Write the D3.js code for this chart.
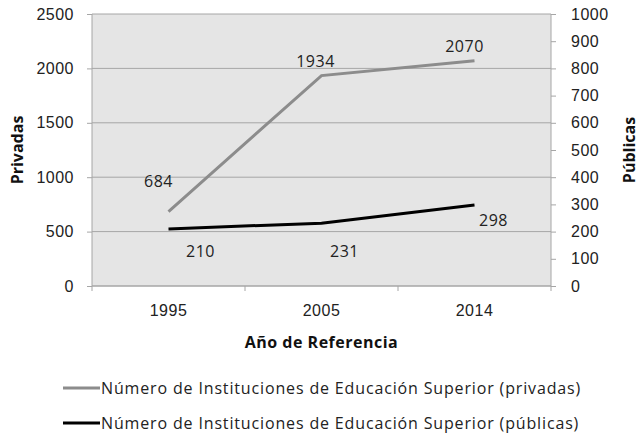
<!DOCTYPE html>
<html>
<head>
<meta charset="utf-8">
<script src="https://cdn.jsdelivr.net/npm/d3@7"></script>
<style>
  body { margin: 0; background: #fff; }
  svg { font-family: "Open Sans", sans-serif; }
</style>
</head>
<body>
<svg id="chart" width="640" height="434"></svg>
<script>
var years = ["1995", "2005", "2014"];
var privadas = [684, 1934, 2070];
var publicas = [210, 231, 298];
var leftTicks = [0, 500, 1000, 1500, 2000, 2500];
var rightTicks = [0, 100, 200, 300, 400, 500, 600, 700, 800, 900, 1000];
var seriesNames = [
  "Número de Instituciones de Educación Superior (privadas)",
  "Número de Instituciones de Educación Superior (públicas)"
];

var margin = { top: 14, right: 89, bottom: 148, left: 92 };
var w = 640, h = 434;
var fs = "16px", ls = "0.5px";

var svg = d3.select("#chart");

var xScale = d3.scaleBand()
  .domain(years)
  .range([margin.left, w - margin.right]);

var yLeft = d3.scaleLinear()
  .domain([0, 2500])
  .range([h - margin.bottom, margin.top]);

var yRight = d3.scaleLinear()
  .domain([0, 1000])
  .range([h - margin.bottom, margin.top]);

// plot background
svg.append("rect")
  .attr("x", margin.left)
  .attr("y", margin.top)
  .attr("width", w - margin.left - margin.right)
  .attr("height", h - margin.top - margin.bottom)
  .attr("fill", "#e5e5e5");

// gridlines
svg.append("g")
  .selectAll("line")
  .data(leftTicks)
  .enter()
  .append("line")
  .attr("x1", margin.left)
  .attr("x2", w - margin.right)
  .attr("y1", function(d) { return yLeft(d); })
  .attr("y2", function(d) { return yLeft(d); })
  .attr("stroke", "#a6a6a6")
  .attr("stroke-width", 1);

// left axis
var gl = svg.append("g")
  .attr("transform", "translate(" + margin.left + ",0)")
  .call(d3.axisLeft(yLeft).tickValues(leftTicks).tickFormat(d3.format("d")).tickSize(5).tickPadding(13));

// right axis
var gr = svg.append("g")
  .attr("transform", "translate(" + (w - margin.right) + ",0)")
  .call(d3.axisRight(yRight).tickValues(rightTicks).tickFormat(d3.format("d")).tickSize(5).tickPadding(15));

// bottom axis: ticks between categories
var gb = svg.append("g")
  .attr("transform", "translate(0," + (h - margin.bottom) + ")")
  .call(d3.axisBottom(xScale).tickSize(0).tickPadding(19));

var bounds = years.map(function(d) { return xScale(d); }).concat([w - margin.right]);
gb.selectAll(".sep")
  .data(bounds)
  .enter()
  .append("line")
  .attr("class", "sep")
  .attr("x1", function(d) { return d; })
  .attr("x2", function(d) { return d; })
  .attr("y1", 0)
  .attr("y2", 5)
  .attr("stroke", "#a6a6a6");

[gl, gr, gb].forEach(function(g) {
  g.selectAll(".domain").attr("stroke", "#a6a6a6");
  g.selectAll(".tick line").attr("stroke", "#a6a6a6");
  g.selectAll("text").attr("fill", "#222").style("font-size", fs).style("letter-spacing", ls);
});
gl.select(".domain").attr("d", "M0," + yLeft(0) + "V" + yLeft(2500));
gr.select(".domain").attr("d", "M0," + yRight(0) + "V" + yRight(1000));
gb.select(".domain").attr("d", "M" + margin.left + ",0H" + (w - margin.right));

var cx = function(d) { return xScale(d) + xScale.bandwidth() / 2; };

// lines
var linePriv = d3.line()
  .x(function(d, i) { return cx(years[i]); })
  .y(function(d) { return yLeft(d); });
var linePub = d3.line()
  .x(function(d, i) { return cx(years[i]); })
  .y(function(d) { return yRight(d); });

svg.append("path")
  .attr("d", linePriv(privadas))
  .attr("fill", "none")
  .attr("stroke", "#8c8c8c")
  .attr("stroke-width", 3);

svg.append("path")
  .attr("d", linePub(publicas))
  .attr("fill", "none")
  .attr("stroke", "#000")
  .attr("stroke-width", 3);

// data labels
var privOffsets = [[-10, -31], [-6, -15], [-10, -15]];
var pubOffsets = [[32, 22], [23, 28], [19, 15]];

svg.append("g")
  .selectAll("text")
  .data(privadas)
  .enter()
  .append("text")
  .attr("x", function(d, i) { return cx(years[i]) + privOffsets[i][0]; })
  .attr("y", function(d, i) { return yLeft(d) + privOffsets[i][1]; })
  .attr("text-anchor", "middle")
  .attr("dominant-baseline", "central")
  .style("font-size", fs)
  .style("letter-spacing", ls)
  .attr("fill", "#222")
  .text(function(d) { return d; });

svg.append("g")
  .selectAll("text")
  .data(publicas)
  .enter()
  .append("text")
  .attr("x", function(d, i) { return cx(years[i]) + pubOffsets[i][0]; })
  .attr("y", function(d, i) { return yRight(d) + pubOffsets[i][1]; })
  .attr("text-anchor", "middle")
  .attr("dominant-baseline", "central")
  .style("font-size", fs)
  .style("letter-spacing", ls)
  .attr("fill", "#222")
  .text(function(d) { return d; });

// axis titles
svg.append("text")
  .attr("transform", "translate(17,150) rotate(-90)")
  .attr("text-anchor", "middle")
  .attr("dominant-baseline", "central")
  .style("font-size", fs)
  .style("font-weight", "bold")
  .attr("fill", "#111")
  .text("Privadas");

svg.append("text")
  .attr("transform", "translate(629,150) rotate(-90)")
  .attr("text-anchor", "middle")
  .attr("dominant-baseline", "central")
  .style("font-size", fs)
  .style("font-weight", "bold")
  .attr("fill", "#111")
  .text("Públicas");

svg.append("text")
  .attr("x", (margin.left + w - margin.right) / 2)
  .attr("y", 342)
  .attr("text-anchor", "middle")
  .attr("dominant-baseline", "central")
  .style("font-size", fs)
  .style("font-weight", "bold")
  .style("letter-spacing", "0.5px")
  .attr("fill", "#111")
  .text("Año de Referencia");

// legend
var legendColors = ["#8c8c8c", "#000"];
var leg = svg.append("g")
  .selectAll("g")
  .data(seriesNames)
  .enter()
  .append("g")
  .attr("transform", function(d, i) { return "translate(63," + (388 + i * 35) + ")"; });

leg.append("line")
  .attr("x1", 0).attr("x2", 37)
  .attr("y1", 0).attr("y2", 0)
  .attr("stroke", function(d, i) { return legendColors[i]; })
  .attr("stroke-width", 3);

leg.append("text")
  .attr("x", 38)
  .attr("y", 0)
  .attr("dominant-baseline", "central")
  .style("font-size", fs)
  .style("letter-spacing", "0.85px")
  .attr("fill", "#222")
  .text(function(d) { return d; });
</script>
</body>
</html>
